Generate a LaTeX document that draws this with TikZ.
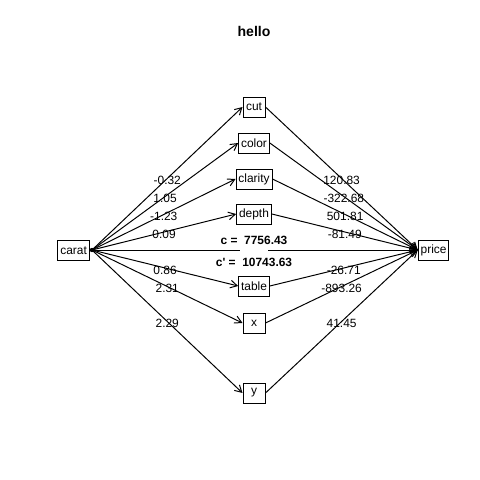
\documentclass[tikz,border=0pt]{standalone}
\usepackage{fontspec}
\setmainfont{Liberation Sans}
\usetikzlibrary{arrows.meta}
\begin{document}
\begin{tikzpicture}[
    var/.style={draw, line width=0.7pt, inner xsep=0.06cm, inner ysep=0pt, minimum height=0.5cm, minimum width=0.55cm, font=\fontsize{8.5}{10}\selectfont},
    coef/.style={midway, yshift=-0.05cm, font=\fontsize{8.5}{10}\selectfont},
    bold/.style={font=\bfseries\fontsize{8.5}{10}\selectfont},
    edge/.style={line width=0.7pt, -{Straight Barb[length=0.17cm,width=0.19cm]}}
]
    \useasboundingbox (0,0) rectangle (12,12);
    \node[font=\bfseries\fontsize{10}{12}\selectfont] (title) at (6.35,11.225) {hello};
    \node[var] (carat) at (1.84,5.74) {carat};
    \node[var] (price) at (10.84,5.75) {price};
    \coordinate (src) at (2.3,5.75);
    \fill (src) circle (0.055);
    % mediators, with the coefficient of each path
    \foreach \v/\yy/\a/\b/\t in {cut/9.325/-0.32/120.83/cut, color/8.425/1.05/-322.68/color,
        clarity/7.525/-1.23/501.81/clarity, depth/6.65/0.09/-81.49/depth,
        table/4.85/0.86/-26.71/table, vx/3.925/2.31/-893.26/x, vy/2.175/2.29/41.45/y}
    {
        \node[var] (\v) at (6.35,\yy) {\t};
        \draw[edge] (src) -- (\v.west) node[coef] {\a};
        \draw[edge] (\v.east) -- (price.west) node[coef] {\b};
    }
    % direct path
    \coordinate (gapl) at (6.0,5.75);
    \coordinate (gapr) at (6.7,5.75);
    \draw[line width=0.7pt] (src) -- (gapl);
    \draw[edge] (gapr) -- (price.west);
    \node[bold] (c) at (6.35,6.0) {c =\ \ 7756.43};
    \node[bold] (cp) at (6.35,5.45) {c\textquotesingle\ =\ \ 10743.63};
\end{tikzpicture}
\end{document}
